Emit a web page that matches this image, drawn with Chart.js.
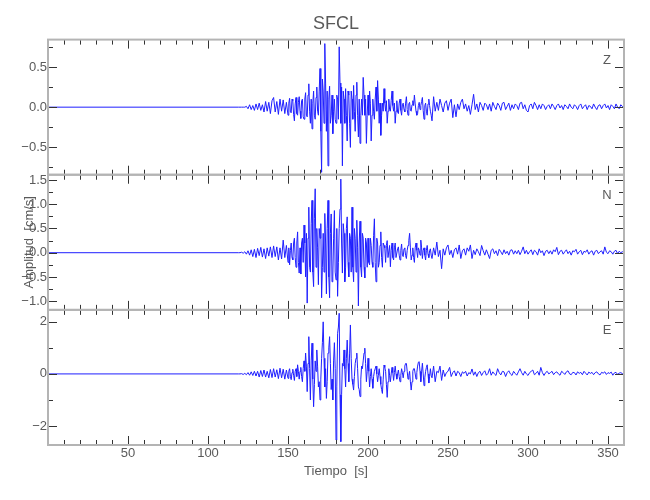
<!DOCTYPE html>
<html>
<head>
<meta charset="utf-8">
<title>SFCL</title>
<script src="https://cdn.jsdelivr.net/npm/chart.js@4/dist/chart.umd.min.js"></script>
<style>
  html, body { margin: 0; padding: 0; background: #fff; }
  #wrap { width: 650px; height: 500px; }
</style>
</head>
<body>
<div id="wrap"><canvas id="seis" width="650" height="500"></canvas></div>
<script>
// station + components, one panel per component (top to bottom)
const stationName = 'SFCL';
const components = ['Z', 'N', 'E'];

// traces are read once a second from startTime; before that the record is flat
const startTime = 120;
const sampleStep = 1;
// extra half-second readings through the strong shaking (t = 150.5 ... 239.5)
const midStart = 150;
const midOffset = 0.5;

const zTrace = [
  0, 0, 0, 0, 0.01, -0.02, 0.03, -0.03, 0.02, -0.04,
  0.04, -0.03, 0.05, -0.04, 0.03, -0.06, 0.07, -0.05, 0.06, -0.08,
  0.08, 0.12, -0.06, 0.07, -0.09, 0.1, -0.05, 0.09, -0.08, 0.06,
  -0.1, 0.11, -0.07, 0.08, -0.17, 0.12, -0.1, 0.13, -0.14, 0.1,
  -0.15, 0.18, -0.12, 0.29, -0.2, -0.27, 0.2, -0.15, 0.25, -0.1,
  0.48, -0.81, 0.2, 0.79, -0.3, -0.73, 0.26, -0.1, -0.33, 0.1,
  -0.2, 0.1, 0.75, -0.2, -0.73, 0.1, 0.23, -0.42, 0.15, -0.5,
  0.1, 0.27, -0.3, 0.31, -0.37, -0.45, 0.1, 0.37, -0.1, -0.45,
  0.15, 0.2, -0.42, 0.1, -0.15, 0.25, 0.33, -0.2, -0.35, 0.05,
  0.23, -0.05, -0.2, 0.1, -0.05, 0.2, -0.05, -0.2, 0.08, -0.08,
  0.1, -0.1, 0.05, -0.06, 0.13, -0.1, 0.06, -0.05, 0.08, 0.15,
  -0.05, -0.08, 0.06, 0.02, 0.12, -0.15, 0.05, -0.1, 0.1, -0.05,
  -0.17, 0.13, -0.05, 0.06, -0.04, 0.1, 0.02, -0.06, 0.05, 0.08,
  -0.04, 0.05, 0.1, -0.13, 0.03, -0.12, 0.04, -0.03, 0.06, 0.1,
  -0.02, 0.04, -0.05, 0.02, -0.09, 0.03, 0.16, -0.03, 0.04, -0.06,
  0.06, 0.02, -0.04, 0.05, 0.03, -0.03, 0.04, -0.05, 0.06, 0.01,
  -0.03, 0.05, 0.02, -0.04, 0.05, 0.06, -0.03, 0.01, 0.05, -0.04,
  0.03, -0.02, 0.04, 0.02, -0.03, 0.05, 0.06, -0.02, 0.03, -0.04,
  -0.06, 0.02, 0.04, -0.02, 0.06, 0.02, -0.03, 0.03, -0.02, 0.04,
  0.02, -0.03, 0.01, 0.03, -0.02, 0.04, 0.01, -0.03, 0.02, 0.04,
  -0.01, 0.02, -0.03, 0.03, 0.01, -0.02, 0.04, 0, -0.02, 0.03,
  0.01, -0.03, 0.02, 0.04, -0.02, 0.01, 0.03, -0.03, 0.02, 0.01,
  -0.02, 0.04, 0, -0.03, 0.02, 0.03, -0.02, 0.02, 0.04, -0.01,
  0.02, -0.03, 0.03, 0.01, -0.02, 0.04, 0, -0.02, 0.03, 0.01,
  -0.01
];
const zMid = [
  0.05, -0.06, 0.1, -0.09, 0.04, -0.08, 0.06, -0.05, 0.08, -0.12,
  0.1, -0.1, 0.15, -0.05, 0.1, 0.05, -0.1, 0.12, -0.05, 0.2,
  -0.3, 0.35, -0.2, 0.3, 0.2, 0.1, -0.2, 0.15, -0.05, -0.15,
  0.15, -0.15, 0.3, 0.25, 0.2, -0.2, -0.1, 0.2, -0.2, 0.2,
  -0.15, -0.05, 0.15, -0.1, 0.1, -0.1, -0.1, 0.15, 0.1, -0.1,
  -0.1, 0.05, -0.1, -0.05, 0.1, -0.05, 0.1, 0.05, -0.1, -0.05,
  0.05, 0.08, -0.05, -0.03, 0.08, 0.02, 0.05, -0.05, -0.06, 0.05,
  -0.04, 0.03, -0.03, 0.05, -0.03, 0.04, -0.04, 0.03, 0.02, 0.04,
  -0.1, 0.02, -0.03, 0.07, -0.04, 0.02, -0.05, 0.04, 0.02, -0.1
];

const nTrace = [
  0, 0.01, -0.01, 0.02, -0.03, 0.04, -0.05, 0.06, -0.08, 0.07,
  -0.1, 0.09, -0.06, 0.11, -0.09, 0.08, -0.12, 0.1, -0.07, 0.12,
  -0.1, 0.14, -0.08, 0.12, -0.15, 0.1, -0.13, 0.26, -0.1, 0.15,
  -0.2, -0.25, 0.2, -0.15, 0.3, -0.3, 0.43, -0.42, -0.44, 0.3,
  0.57, -0.5, -1.04, 0.94, -0.4, 1.08, -0.7, 1.32, 0.5, -0.66,
  0.3, -0.93, 0.4, 0.81, -0.85, 1.08, -0.93, 0.8, -0.5, 0.87,
  -0.56, -0.9, 0.5, 1.52, -0.42, 0.4, -0.3, 0.74, -0.5, 0.3,
  0.94, -0.6, 0.3, 0.67, -1.1, 0.65, -0.5, 0.3, -0.52, 0.2,
  0.3, -0.25, 0.15, -0.3, 0.7, -0.6, 0.2, -0.2, 0.43, -0.3,
  0.15, -0.2, 0.25, -0.1, -0.29, 0.2, -0.15, 0.2, -0.1, 0.12,
  -0.15, 0.18, -0.08, 0.1, -0.12, 0.15, 0.4, -0.15, 0.1, -0.2,
  0.2, -0.1, 0.05, 0.26, -0.12, 0.1, -0.15, 0.15, -0.1, 0.08,
  -0.12, 0.1, -0.05, 0.22, -0.08, 0.05, -0.33, 0.08, -0.05, 0.1,
  0.16, -0.04, 0.05, -0.1, 0.06, 0.1, -0.03, 0.16, -0.12, 0.04,
  0.08, -0.05, 0.1, 0.03, 0.16, -0.12, 0.05, -0.04, 0.08, 0.02,
  -0.06, 0.15, 0.04, -0.05, 0.06, -0.03, -0.12, 0.05, 0.08, -0.02,
  0.04, -0.06, 0.07, 0.02, -0.04, 0.06, -0.02, 0.03, -0.05, 0.05,
  0.06, -0.03, 0.04, -0.02, 0.05, -0.04, 0.03, 0.12, -0.02, 0.05,
  -0.03, 0.02, 0.06, -0.04, 0.05, 0.02, -0.05, 0.08, 0, 0.04,
  -0.06, 0.03, 0.05, -0.02, 0.04, -0.03, 0.06, 0.02, 0.11, -0.04,
  0.03, 0.05, -0.03, 0.02, 0.06, -0.02, 0.03, -0.05, 0.04, 0.02,
  0.07, -0.03, 0.02, 0.05, -0.04, 0.03, 0.01, 0.06, -0.03, 0.02,
  0.04, -0.05, 0.03, 0.05, -0.02, 0.02, 0.04, -0.03, 0.12, 0.01,
  -0.02, 0.04, 0.02, -0.03, 0.03, 0.05, -0.02, 0.03, 0, 0.02,
  0.01
];
const nMid = [
  0.1, 0.05, -0.1, 0.2, -0.1, 0.2, -0.2, 0.1, 0.2, -0.2,
  0.2, 0.4, 0.3, -0.3, 0.6, -0.4, 0.7, -0.3, 0.1, 0.5,
  0.6, -0.3, -0.4, 0.2, 0.5, -0.5, 0.4, -0.6, 0.3, -0.4,
  0.5, -0.2, 0.9, 0.2, 0.6, -0.6, 0.5, -0.2, 0.4, -0.4,
  -0.3, 0.5, -0.4, 0.1, 0.2, -0.3, 0.4, -0.3, 0.3, -0.3,
  -0.2, 0.3, -0.2, 0.35, -0.2, 0.3, -0.3, 0.15, -0.1, 0.2,
  0.1, 0.15, -0.1, 0.15, 0.05, -0.1, 0.1, -0.1, 0.08, -0.05,
  0.05, -0.05, 0.08, -0.06, 0.05, 0.25, 0.1, -0.05, -0.1, 0.1,
  0.05, 0.1, -0.05, 0.1, 0.05, -0.05, 0.05, -0.03, 0.04, -0.05
];

const eTrace = [
  0, 0.01, -0.02, 0.02, -0.03, 0.05, -0.05, 0.08, -0.06, 0.1,
  -0.08, 0.1, -0.12, 0.13, -0.1, 0.15, -0.12, 0.1, -0.15, 0.17,
  -0.14, 0.2, -0.12, 0.16, -0.18, 0.22, -0.15, 0.18, -0.2, 0.15,
  -0.17, 0.2, -0.22, 0.18, -0.25, 0.2, 0.35, -0.2, 0.25, -0.3,
  0.5, 0.8, -0.68, 1.43, -1.0, 1.18, -1.26, 0.5, 0.92, -0.5,
  -1.0, 0.6, 2.0, -0.5, -0.94, 0.8, 1.43, -0.6, -1.0, 1.2,
  -2.54, 1.56, 2.33, -2.6, 0.4, 0.92, -0.5, 1.3, -0.3, 1.88,
  -0.2, -0.62, 0.4, 0.8, -0.5, -0.87, 0.3, 0.5, 0.99, -0.3,
  0.6, -0.5, 0.2, -0.55, 0.1, 0.3, -0.3, 0.2, -0.4, -0.75,
  0.34, 0.1, -0.9, 0.2, -0.3, 0.25, -0.25, 0.3, -0.2, 0.15,
  -0.3, 0.2, -0.15, 0.3, 0.4, -0.2, 0.1, -0.62, 0.1, 0.2,
  -0.2, 0.3, 0.47, -0.3, 0.41, -0.45, 0.1, 0.35, -0.35, 0.2,
  -0.15, 0.3, -0.3, 0.1, 0.05, 0.3, -0.25, 0.15, -0.1, 0.05,
  0.1, 0.25, -0.1, 0.05, 0.12, -0.08, 0.1, 0.05, -0.1, 0.08,
  0.02, 0.1, -0.08, 0.05, 0, 0.19, -0.05, 0.08, -0.1, 0.05,
  0.1, -0.06, 0.05, 0.12, -0.05, 0.02, 0.2, -0.05, 0.08, 0,
  -0.06, 0.2, 0.05, -0.04, 0.1, 0.08, -0.1, 0.05, 0.12, 0,
  -0.06, 0.1, 0.02, -0.05, 0.08, 0.2, 0.05, -0.05, 0.1, 0,
  -0.06, 0.05, 0.1, 0.15, -0.03, 0.02, 0.1, -0.05, 0.25, 0.05,
  -0.06, 0.05, 0.1, 0, 0.05, 0.1, -0.03, 0.05, 0.08, 0,
  -0.05, 0.1, 0.05, -0.02, 0.08, 0.12, 0, -0.03, 0.06, 0.05,
  -0.04, 0.08, 0.02, 0.06, -0.03, 0.1, 0.03, -0.04, 0.07, 0.02,
  0.06, -0.03, 0.05, 0.08, 0, -0.04, 0.06, 0.03, 0.08, -0.02,
  0.05, 0.02, 0.07, -0.05, 0.04, 0.06, -0.02, 0.03, 0.05, 0.01,
  0
];
const eMid = [
  0.1, -0.1, 0.05, -0.05, 0.1, -0.1, 0.1, 0.1, -0.1, 0.2,
  0.1, 0.3, 0.4, 0.2, 0.5, -0.2, -0.4, 0.1, 0.3, -0.3,
  -0.2, 1.2, 0.6, 0.2, -0.3, 1.0, 0.4, -0.2, 0.5, 0.2,
  -0.5, 1.8, -0.8, -0.8, 0.3, 0.2, 0.6, 0.4, 0.8, 0.6,
  -0.4, -0.1, 0.6, 0.2, -0.6, -0.2, 0.2, 0.8, 0.4, 0.1,
  0.1, -0.1, -0.2, -0.1, 0.2, 0, -0.05, -0.1, -0.6, -0.2,
  0.25, -0.4, -0.3, -0.05, 0, 0.05, 0.05, 0, 0, -0.1,
  -0.05, 0.05, 0.1, 0.4, 0.1, -0.05, -0.3, -0.3, 0.2, 0,
  0.05, 0.45, 0.1, 0.1, 0, -0.15, 0.25, 0, -0.1, -0.05
];

// axis ranges and tick spacing (major label step, minor step)
const timeRange = [0, 360];
const timeMajor = 50;
const timeMinor = 10;
const ampRanges = [[-0.84, 0.84], [-1.18, 1.61], [-2.73, 2.46]];
const ampMajor = [0.5, 0.5, 2];
const ampMinor = [0.25, 0.25, 1];
const ampDecimals = [1, 1, 0];

const traces = [zTrace, nTrace, eTrace];
const mids = [zMid, nMid, eMid];
const axisIds = ['yZ', 'yN', 'yE'];

const labelFont = "'Liberation Sans', 'Arimo', sans-serif";
const textColor = '#5a5a5a';

function toPoints(values, half) {
  const pts = [{ x: timeRange[0], y: 0 }, { x: startTime - sampleStep, y: 0 }];
  values.forEach((v, i) => {
    const t = startTime + i * sampleStep;
    pts.push({ x: t, y: v });
    const j = t - midStart;
    if (j >= 0 && j < half.length) pts.push({ x: t + midOffset, y: half[j] });
  });
  return pts;
}

function fmtAmp(decimals) {
  return function(value) {
    const s = Math.abs(value).toFixed(decimals);
    return value < 0 ? '\u2212' + s : s;
  };
}

// frame, inward ticks and component letters for each stacked panel
const panelFrame = {
  id: 'panelFrame',
  afterDatasetsDraw(chart) {
    const { ctx, chartArea: a, scales } = chart;
    const xs = scales.x;
    ctx.save();
    axisIds.forEach((id, k) => {
      const ys = scales[id];
      ctx.strokeStyle = '#333';
      ctx.lineWidth = 1;
      ctx.beginPath();
      for (let t = timeRange[0] + timeMinor; t < timeRange[1]; t += timeMinor) {
        const px = Math.round(xs.getPixelForValue(t)) + 0.5;
        const len = t % timeMajor === 0 ? 9 : 5;
        ctx.moveTo(px, ys.top);
        ctx.lineTo(px, ys.top + len);
        ctx.moveTo(px, ys.bottom);
        ctx.lineTo(px, ys.bottom - len);
      }
      const step = ampMinor[k];
      for (let v = Math.ceil(ys.min / step) * step; v <= ys.max; v += step) {
        const py = Math.round(ys.getPixelForValue(v)) + 0.5;
        const ratio = v / ampMajor[k];
        const len = Math.abs(ratio - Math.round(ratio)) < 1e-6 ? 9 : 5;
        ctx.moveTo(a.left, py);
        ctx.lineTo(a.left + len, py);
        ctx.moveTo(a.right, py);
        ctx.lineTo(a.right - len, py);
      }
      ctx.stroke();

      ctx.strokeStyle = '#b4b4b4';
      ctx.lineWidth = 2;
      ctx.strokeRect(a.left, ys.top, a.right - a.left, ys.bottom - ys.top);

      ctx.fillStyle = textColor;
      ctx.font = '13px ' + labelFont;
      ctx.textAlign = 'center';
      ctx.textBaseline = 'middle';
      ctx.fillText(components[k], a.right - 17, ys.top + 21);
    });
    ctx.restore();
  }
};

const yScale = (k) => ({
  type: 'linear',
  position: 'left',
  stack: 'amp',
  stackWeight: 1,
  weight: 3 - k,
  min: ampRanges[k][0],
  max: ampRanges[k][1],
  grid: { display: false, drawTicks: false },
  border: { display: false },
  ticks: {
    stepSize: ampMajor[k],
    includeBounds: false,
    autoSkip: false,
    padding: 1,
    color: textColor,
    font: { family: labelFont, size: 13 },
    callback: fmtAmp(ampDecimals[k])
  },
  title: {
    display: k === 1,
    text: 'Amplitud  [cm/s]',
    color: textColor,
    font: { family: labelFont, size: 13 },
    padding: { top: 22, bottom: 0 }
  },
  afterFit(scale) { scale.width = 48; }
});

const ctx = document.getElementById('seis');

new Chart(ctx, {
  type: 'line',
  data: {
    datasets: traces.map((values, k) => ({
      label: components[k],
      data: toPoints(values, mids[k]),
      yAxisID: axisIds[k],
      borderColor: '#1f1fff',
      borderWidth: 1,
      pointRadius: 0,
      tension: 0,
      fill: false
    }))
  },
  options: {
    responsive: false,
    animation: false,
    events: [],
    layout: { padding: { left: 0, right: 26, top: 0, bottom: 0 } },
    plugins: {
      legend: { display: false },
      tooltip: { enabled: false },
      title: {
        display: true,
        fullSize: false,
        text: stationName,
        color: textColor,
        font: { family: labelFont, size: 18, weight: 'normal' },
        padding: { top: 13, bottom: 5 }
      }
    },
    scales: {
      x: {
        type: 'linear',
        position: 'bottom',
        min: timeRange[0],
        max: timeRange[1],
        grid: { display: false, drawTicks: false },
        border: { display: false },
        ticks: {
          stepSize: timeMajor,
          includeBounds: false,
          autoSkip: false,
          maxRotation: 0,
          padding: 1,
          color: textColor,
          font: { family: labelFont, size: 13 },
          callback: (v) => (v === 0 ? '' : v)
        },
        title: {
          display: true,
          text: 'Tiempo  [s]',
          color: textColor,
          font: { family: labelFont, size: 13 },
          padding: { top: 0, bottom: 21 }
        },
        afterFit(scale) { scale.height = 55; }
      },
      yZ: yScale(0),
      yN: yScale(1),
      yE: yScale(2)
    }
  },
  plugins: [panelFrame]
});
</script>
</body>
</html>
